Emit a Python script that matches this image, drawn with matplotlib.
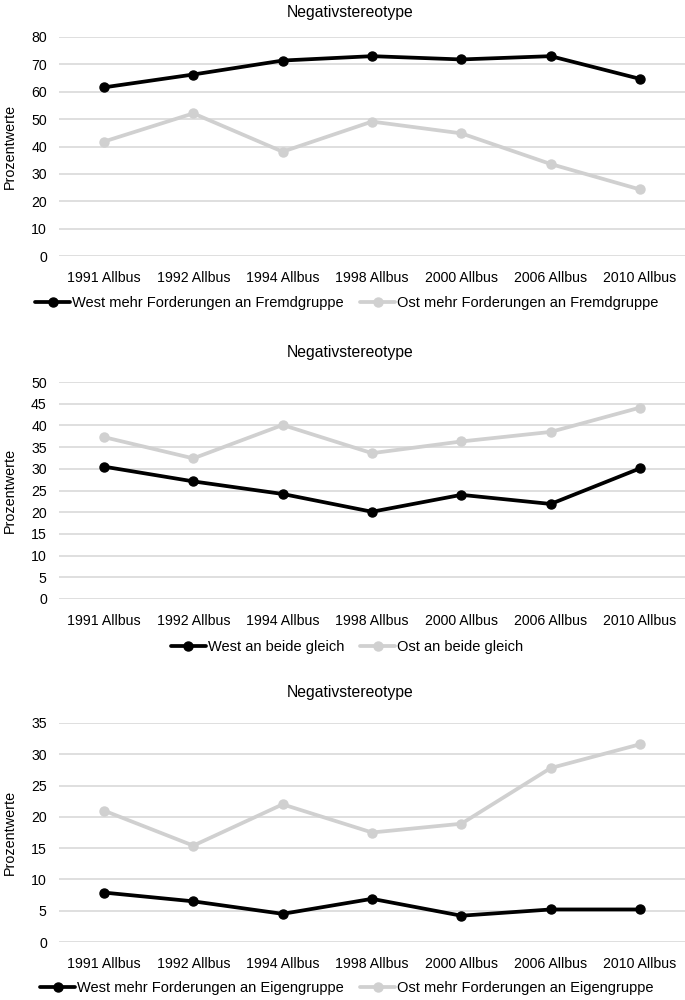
import matplotlib
matplotlib.use("Agg")
import matplotlib.pyplot as plt

plt.rcParams['font.family'] = ['Liberation Sans', 'DejaVu Sans']

categories = ["1991 Allbus", "1992 Allbus", "1994 Allbus", "1998 Allbus",
              "2000 Allbus", "2006 Allbus", "2010 Allbus"]

title = "Negativstereotype"
ylabel = "Prozentwerte"

# Panel 1
west_fremd = [61.6, 66.3, 71.4, 73.0, 71.8, 73.0, 64.7]
ost_fremd = [41.8, 52.1, 38.1, 49.1, 44.8, 33.6, 24.3]
labels_1 = ["West mehr Forderungen an Fremdgruppe", "Ost mehr Forderungen an Fremdgruppe"]
yticks_1 = [0, 10, 20, 30, 40, 50, 60, 70, 80]

# Panel 2
west_gleich = [30.5, 27.1, 24.2, 20.1, 24.0, 21.9, 30.1]
ost_gleich = [37.3, 32.4, 40.1, 33.6, 36.3, 38.5, 44.1]
labels_2 = ["West an beide gleich", "Ost an beide gleich"]
yticks_2 = [0, 5, 10, 15, 20, 25, 30, 35, 40, 45, 50]

# Panel 3
west_eigen = [7.9, 6.5, 4.5, 6.9, 4.2, 5.2, 5.2]
ost_eigen = [21.0, 15.4, 22.0, 17.5, 18.9, 27.8, 31.6]
labels_3 = ["West mehr Forderungen an Eigengruppe", "Ost mehr Forderungen an Eigengruppe"]
yticks_3 = [0, 5, 10, 15, 20, 25, 30, 35]

W, H = 685, 1000
fig = plt.figure(figsize=(W / 100, H / 100), dpi=100)

BLACK = "#000000"
GRAY = "#d0d0d0"
GRID = "#d9d9d9"

panels = [
    (west_fremd, ost_fremd, labels_1, yticks_1, 37, 256, 12, 303),
    (west_gleich, ost_gleich, labels_2, yticks_2, 382, 599, 352, 647),
    (west_eigen, ost_eigen, labels_3, yticks_3, 723, 942, 692, 988),
]

left_px, right_px = 59.3, 684.7
x = list(range(len(categories)))

for west, ost, labels, yticks, top_px, bot_px, title_px, leg_px in panels:
    ax = fig.add_axes([left_px / W, 1 - bot_px / H, (right_px - left_px) / W, (bot_px - top_px) / H])
    ax.set_xlim(-0.5, len(categories) - 0.5)
    ax.set_ylim(yticks[0], yticks[-1])
    ax.set_yticks(yticks)
    ax.set_xticks(x)
    ax.set_xticklabels(categories, fontsize=10.2, color="#000000")
    ax.tick_params(axis='y', labelsize=10.2, length=0, pad=9)
    ax.tick_params(axis='x', length=0, pad=11)
    ax.yaxis.grid(True, color=GRID, linewidth=1.2)
    ax.set_axisbelow(True)
    for s in ax.spines.values():
        s.set_visible(False)
    l2, = ax.plot(x, ost, color=GRAY, linewidth=2.7, marker='o', markersize=6.5,
                  label=labels[1], solid_capstyle='round', zorder=3)
    l1, = ax.plot(x, west, color=BLACK, linewidth=2.7, marker='o', markersize=6.5,
                  label=labels[0], solid_capstyle='round', zorder=4)
    fig.text(350 / W, 1 - (title_px + 1) / H, title, ha='center', va='center', fontsize=11.3)
    fig.text(10 / W, 1 - ((top_px + bot_px) / 2) / H, ylabel, rotation=90,
             ha='center', va='center', fontsize=10.4)
    fig.legend([l1, l2], labels, loc='center', bbox_to_anchor=(347 / W, 1 - leg_px / H),
               ncol=2, frameon=False, fontsize=10.5, handlelength=2.4,
               handletextpad=0.15, columnspacing=1.1, borderaxespad=0)

fig.savefig("out.png", dpi=100)
